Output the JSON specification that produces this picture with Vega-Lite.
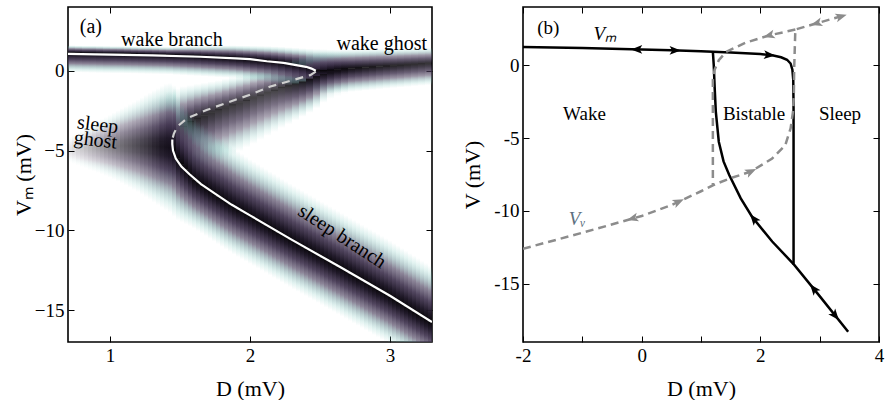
{
"$schema": "https://vega.github.io/schema/vega-lite/v6.json",
"padding": {"left": 11, "top": 5, "right": 0, "bottom": 0},
"spacing": 26,
"config": {
 "font": "Liberation Serif",
 "view": {"stroke": "black", "strokeWidth": 1.6},
 "axis": {"grid": false, "domain": false, "tickColor": "black", "tickWidth": 1, "tickSize": -6, "labelPadding": 10, "labelFont": "Liberation Serif", "labelFontSize": 19, "labelColor": "black", "titleFont": "Liberation Serif", "titleFontSize": 22, "titleFontWeight": "normal", "titleColor": "black", "labelFlush": false, "labelOverlap": false}
},
"datasets": {
 "h7": [
  {"D":0.725,"t":1.6,"c":1.14,"b":-0.1,"p":1},
  {"D":0.775,"t":1.59,"c":1.13,"b":-0.11,"p":1},
  {"D":0.825,"t":1.58,"c":1.12,"b":-0.12,"p":1},
  {"D":0.875,"t":1.58,"c":1.12,"b":-0.13,"p":1},
  {"D":0.925,"t":1.57,"c":1.11,"b":-0.14,"p":1},
  {"D":0.975,"t":1.56,"c":1.1,"b":-0.15,"p":1},
  {"D":1.025,"t":1.55,"c":1.1,"b":-0.16,"p":1},
  {"D":1.075,"t":1.55,"c":1.09,"b":-0.16,"p":1},
  {"D":1.125,"t":1.54,"c":1.08,"b":-0.17,"p":1},
  {"D":1.175,"t":1.53,"c":1.07,"b":-0.18,"p":1},
  {"D":1.225,"t":1.52,"c":1.06,"b":-0.19,"p":1},
  {"D":1.275,"t":1.52,"c":1.05,"b":-0.2,"p":1},
  {"D":1.325,"t":1.51,"c":1.04,"b":-0.21,"p":1},
  {"D":1.375,"t":1.5,"c":1.03,"b":-0.22,"p":1},
  {"D":1.425,"t":1.5,"c":1.01,"b":-0.23,"p":1},
  {"D":1.475,"t":1.52,"c":1.0,"b":-0.26,"p":1},
  {"D":1.525,"t":1.53,"c":0.98,"b":-0.28,"p":1},
  {"D":1.575,"t":1.54,"c":0.97,"b":-0.31,"p":1},
  {"D":1.625,"t":1.55,"c":0.95,"b":-0.33,"p":1},
  {"D":1.675,"t":1.56,"c":0.92,"b":-0.36,"p":1},
  {"D":1.725,"t":1.57,"c":0.9,"b":-0.38,"p":1},
  {"D":1.775,"t":1.58,"c":0.87,"b":-0.41,"p":1},
  {"D":1.825,"t":1.59,"c":0.85,"b":-0.43,"p":1},
  {"D":1.875,"t":1.6,"c":0.82,"b":-0.46,"p":1},
  {"D":1.925,"t":1.59,"c":0.79,"b":-0.5,"p":1},
  {"D":1.975,"t":1.58,"c":0.76,"b":-0.57,"p":1},
  {"D":2.025,"t":1.57,"c":0.72,"b":-0.63,"p":1},
  {"D":2.075,"t":1.56,"c":0.68,"b":-0.68,"p":1},
  {"D":2.125,"t":1.55,"c":0.64,"b":-0.73,"p":1},
  {"D":2.175,"t":1.53,"c":0.59,"b":-0.78,"p":1},
  {"D":2.225,"t":1.51,"c":0.53,"b":-0.83,"p":1},
  {"D":2.275,"t":1.48,"c":0.46,"b":-0.89,"p":1},
  {"D":2.325,"t":1.45,"c":0.39,"b":-0.96,"p":1},
  {"D":2.375,"t":1.42,"c":0.32,"b":-1.02,"p":1},
  {"D":2.425,"t":1.39,"c":0.21,"b":-1.15,"p":1},
  {"D":2.475,"t":1.37,"c":0.09,"b":-1.35,"p":1},
  {"D":2.525,"t":1.36,"c":0.05,"b":-1.44,"p":1},
  {"D":2.575,"t":1.34,"c":0.07,"b":-1.43,"p":1},
  {"D":2.625,"t":1.33,"c":0.1,"b":-1.4,"p":0.99},
  {"D":2.675,"t":1.34,"c":0.13,"b":-1.36,"p":0.98},
  {"D":2.725,"t":1.35,"c":0.16,"b":-1.32,"p":0.96},
  {"D":2.775,"t":1.36,"c":0.19,"b":-1.28,"p":0.95},
  {"D":2.825,"t":1.37,"c":0.22,"b":-1.24,"p":0.93},
  {"D":2.875,"t":1.38,"c":0.25,"b":-1.2,"p":0.92},
  {"D":2.925,"t":1.39,"c":0.28,"b":-1.16,"p":0.9},
  {"D":2.975,"t":1.39,"c":0.31,"b":-1.12,"p":0.89},
  {"D":3.025,"t":1.4,"c":0.33,"b":-1.08,"p":0.88},
  {"D":3.075,"t":1.41,"c":0.36,"b":-1.05,"p":0.87},
  {"D":3.125,"t":1.42,"c":0.39,"b":-1.01,"p":0.86},
  {"D":3.175,"t":1.43,"c":0.42,"b":-0.97,"p":0.85},
  {"D":3.225,"t":1.44,"c":0.45,"b":-0.94,"p":0.84},
  {"D":3.275,"t":1.45,"c":0.48,"b":-0.9,"p":0.83},
  {"D":1.325,"t":-1.7,"c":-4.5,"b":-7.4,"p":0.15},
  {"D":1.375,"t":-1.5,"c":-4.4,"b":-7.3,"p":0.45},
  {"D":1.425,"t":-1.3,"c":-4.2,"b":-7.2,"p":0.7},
  {"D":1.475,"t":-1.1,"c":-3.85,"b":-6.9,"p":0.8},
  {"D":1.525,"t":-0.96,"c":-3.46,"b":-6.7,"p":0.85},
  {"D":1.575,"t":-0.89,"c":-3.19,"b":-6.5,"p":0.87},
  {"D":1.625,"t":-0.81,"c":-2.96,"b":-6.3,"p":0.86},
  {"D":1.675,"t":-0.74,"c":-2.79,"b":-6.1,"p":0.85},
  {"D":1.725,"t":-0.66,"c":-2.61,"b":-5.9,"p":0.83},
  {"D":1.775,"t":-0.59,"c":-2.44,"b":-5.7,"p":0.81},
  {"D":1.825,"t":-0.49,"c":-2.28,"b":-5.49,"p":0.8},
  {"D":1.875,"t":-0.38,"c":-2.13,"b":-5.26,"p":0.79},
  {"D":1.925,"t":-0.27,"c":-1.98,"b":-5.04,"p":0.79},
  {"D":1.975,"t":-0.16,"c":-1.83,"b":-4.81,"p":0.78},
  {"D":2.025,"t":-0.03,"c":-1.67,"b":-4.58,"p":0.76},
  {"D":2.075,"t":0.11,"c":-1.51,"b":-4.33,"p":0.75},
  {"D":2.125,"t":0.24,"c":-1.36,"b":-4.08,"p":0.75},
  {"D":2.175,"t":0.38,"c":-1.2,"b":-3.83,"p":0.76},
  {"D":2.225,"t":0.52,"c":-1.06,"b":-3.58,"p":0.78},
  {"D":2.275,"t":0.65,"c":-0.94,"b":-3.35,"p":0.82},
  {"D":2.325,"t":0.78,"c":-0.81,"b":-3.12,"p":0.86},
  {"D":2.375,"t":0.92,"c":-0.66,"b":-2.88,"p":0.9},
  {"D":2.425,"t":1.08,"c":-0.49,"b":-2.63,"p":0.93},
  {"D":2.475,"t":1.15,"c":-0.33,"b":-2.35,"p":0.85},
  {"D":2.525,"t":1.18,"c":-0.2,"b":-2.0,"p":0.68},
  {"D":2.575,"t":1.2,"c":-0.1,"b":-1.75,"p":0.5},
  {"D":2.625,"t":1.22,"c":-0.02,"b":-1.6,"p":0.32},
  {"D":2.675,"t":1.25,"c":0.05,"b":-1.5,"p":0.15}
 ],
 "hg": [
  {"D":0.71429,"t":-4.13,"b":-5.75,"p":0.12},
  {"D":0.74286,"t":-3.98,"b":-5.84,"p":0.15},
  {"D":0.77143,"t":-3.83,"b":-5.94,"p":0.19},
  {"D":0.8,"t":-3.68,"b":-6.03,"p":0.22},
  {"D":0.82857,"t":-3.54,"b":-6.12,"p":0.26},
  {"D":0.85714,"t":-3.41,"b":-6.22,"p":0.3},
  {"D":0.88571,"t":-3.27,"b":-6.31,"p":0.34},
  {"D":0.91429,"t":-3.14,"b":-6.4,"p":0.38},
  {"D":0.94286,"t":-3.0,"b":-6.5,"p":0.42},
  {"D":0.97143,"t":-2.88,"b":-6.6,"p":0.46},
  {"D":1.0,"t":-2.75,"b":-6.7,"p":0.5},
  {"D":1.02857,"t":-2.61,"b":-6.81,"p":0.54},
  {"D":1.05714,"t":-2.48,"b":-6.95,"p":0.57},
  {"D":1.08571,"t":-2.34,"b":-7.06,"p":0.61},
  {"D":1.11429,"t":-2.21,"b":-7.2,"p":0.65},
  {"D":1.14286,"t":-2.07,"b":-7.33,"p":0.68},
  {"D":1.17143,"t":-1.94,"b":-7.47,"p":0.72},
  {"D":1.2,"t":-1.8,"b":-7.6,"p":0.75},
  {"D":1.22857,"t":-1.66,"b":-7.77,"p":0.79},
  {"D":1.25714,"t":-1.5,"b":-7.93,"p":0.82},
  {"D":1.28571,"t":-1.35,"b":-8.09,"p":0.86},
  {"D":1.31429,"t":-1.21,"b":-8.26,"p":0.89},
  {"D":1.34286,"t":-1.08,"b":-8.43,"p":0.92},
  {"D":1.37143,"t":-0.94,"b":-8.59,"p":0.94},
  {"D":1.4,"t":-0.81,"b":-8.76,"p":0.97},
  {"D":1.42857,"t":-0.75,"b":-8.9,"p":0.99}
 ],
 "h4": [
  {"D":1.45714,"t":-0.9,"c":-4.95,"b":-9.15},
  {"D":1.48571,"t":-1.6,"c":-5.49,"b":-9.37},
  {"D":1.51429,"t":-2.04,"c":-5.85,"b":-9.5},
  {"D":1.54286,"t":-2.35,"c":-6.18,"b":-9.63},
  {"D":1.57143,"t":-2.66,"c":-6.5,"b":-9.75},
  {"D":1.6,"t":-2.95,"c":-6.8,"b":-9.89},
  {"D":1.62857,"t":-3.15,"c":-6.98,"b":-10.05},
  {"D":1.65714,"t":-3.35,"c":-7.17,"b":-10.2},
  {"D":1.68571,"t":-3.55,"c":-7.35,"b":-10.36},
  {"D":1.71429,"t":-3.73,"c":-7.53,"b":-10.53},
  {"D":1.74286,"t":-3.9,"c":-7.7,"b":-10.7},
  {"D":1.77143,"t":-4.07,"c":-7.87,"b":-10.87},
  {"D":1.8,"t":-4.25,"c":-8.04,"b":-11.04},
  {"D":1.82857,"t":-4.45,"c":-8.2,"b":-11.2},
  {"D":1.85714,"t":-4.65,"c":-8.36,"b":-11.36},
  {"D":1.88571,"t":-4.85,"c":-8.52,"b":-11.52},
  {"D":1.91429,"t":-5.03,"c":-8.67,"b":-11.67},
  {"D":1.94286,"t":-5.2,"c":-8.81,"b":-11.81},
  {"D":1.97143,"t":-5.37,"c":-8.95,"b":-11.95},
  {"D":2.0,"t":-5.54,"c":-9.1,"b":-12.1},
  {"D":2.02857,"t":-5.69,"c":-9.24,"b":-12.24},
  {"D":2.05714,"t":-5.84,"c":-9.39,"b":-12.39},
  {"D":2.08571,"t":-6.0,"c":-9.54,"b":-12.54},
  {"D":2.11429,"t":-6.15,"c":-9.68,"b":-12.68},
  {"D":2.14286,"t":-6.3,"c":-9.83,"b":-12.83},
  {"D":2.17143,"t":-6.45,"c":-9.98,"b":-12.98},
  {"D":2.2,"t":-6.6,"c":-10.12,"b":-13.12},
  {"D":2.22857,"t":-6.76,"c":-10.27,"b":-13.27},
  {"D":2.25714,"t":-6.91,"c":-10.42,"b":-13.42},
  {"D":2.28571,"t":-7.06,"c":-10.56,"b":-13.56},
  {"D":2.31429,"t":-7.21,"c":-10.71,"b":-13.71},
  {"D":2.34286,"t":-7.35,"c":-10.85,"b":-13.85},
  {"D":2.37143,"t":-7.49,"c":-10.99,"b":-13.99},
  {"D":2.4,"t":-7.64,"c":-11.13,"b":-14.13},
  {"D":2.42857,"t":-7.78,"c":-11.27,"b":-14.27},
  {"D":2.45714,"t":-7.92,"c":-11.41,"b":-14.41},
  {"D":2.48571,"t":-8.06,"c":-11.55,"b":-14.55},
  {"D":2.51429,"t":-8.21,"c":-11.69,"b":-14.69},
  {"D":2.54286,"t":-8.35,"c":-11.84,"b":-14.84},
  {"D":2.57143,"t":-8.49,"c":-11.98,"b":-14.98},
  {"D":2.6,"t":-8.64,"c":-12.12,"b":-15.12},
  {"D":2.62857,"t":-8.78,"c":-12.26,"b":-15.26},
  {"D":2.65714,"t":-8.92,"c":-12.4,"b":-15.4},
  {"D":2.68571,"t":-9.06,"c":-12.55,"b":-15.55},
  {"D":2.71429,"t":-9.21,"c":-12.69,"b":-15.69},
  {"D":2.74286,"t":-9.35,"c":-12.84,"b":-15.84},
  {"D":2.77143,"t":-9.49,"c":-12.98,"b":-15.98},
  {"D":2.8,"t":-9.64,"c":-13.12,"b":-16.12},
  {"D":2.82857,"t":-9.78,"c":-13.27,"b":-16.27},
  {"D":2.85714,"t":-9.92,"c":-13.41,"b":-16.41},
  {"D":2.88571,"t":-10.06,"c":-13.56,"b":-16.56},
  {"D":2.91429,"t":-10.21,"c":-13.7,"b":-16.7},
  {"D":2.94286,"t":-10.35,"c":-13.85,"b":-16.85},
  {"D":2.97143,"t":-10.49,"c":-13.99,"b":-16.99},
  {"D":3.0,"t":-10.64,"c":-14.14,"b":-17.14},
  {"D":3.02857,"t":-10.8,"c":-14.3,"b":-17.3},
  {"D":3.05714,"t":-10.95,"c":-14.45,"b":-17.45},
  {"D":3.08571,"t":-11.11,"c":-14.61,"b":-17.61},
  {"D":3.11429,"t":-11.27,"c":-14.77,"b":-17.77},
  {"D":3.14286,"t":-11.43,"c":-14.93,"b":-17.93},
  {"D":3.17143,"t":-11.58,"c":-15.08,"b":-18.08},
  {"D":3.2,"t":-11.74,"c":-15.24,"b":-18.24},
  {"D":3.22857,"t":-11.9,"c":-15.4,"b":-18.4},
  {"D":3.25714,"t":-12.05,"c":-15.55,"b":-18.55},
  {"D":3.28571,"t":-12.21,"c":-15.71,"b":-18.71}
 ],
 "ca": [
  {"s":"wk","o":0,"D":0.7,"V":1.06},{"s":"wk","o":1,"D":1.0,"V":1.02},{"s":"wk","o":2,"D":1.3,"V":0.97},{"s":"wk","o":3,"D":1.645,"V":0.88},{"s":"wk","o":4,"D":1.9,"V":0.78},{"s":"wk","o":5,"D":2.0,"V":0.73},{"s":"wk","o":6,"D":2.12,"V":0.6},{"s":"wk","o":7,"D":2.24,"V":0.5},{"s":"wk","o":8,"D":2.35,"V":0.33},{"s":"wk","o":9,"D":2.4,"V":0.25},{"s":"wk","o":10,"D":2.44,"V":0.14},{"s":"wk","o":11,"D":2.47,"V":0.0},
  {"s":"mid","o":0,"D":2.47,"V":-0.05},{"s":"mid","o":1,"D":2.43,"V":-0.27},{"s":"mid","o":2,"D":2.3,"V":-0.6},{"s":"mid","o":3,"D":2.14,"V":-1.0},{"s":"mid","o":4,"D":2.0,"V":-1.5},{"s":"mid","o":5,"D":1.835,"V":-2.0},{"s":"mid","o":6,"D":1.69,"V":-2.46},{"s":"mid","o":7,"D":1.55,"V":-2.98},{"s":"mid","o":8,"D":1.48,"V":-3.5},{"s":"mid","o":9,"D":1.456,"V":-3.95},{"s":"mid","o":10,"D":1.445,"V":-4.3},
  {"s":"sl","o":0,"D":1.445,"V":-4.3},{"s":"sl","o":1,"D":1.445,"V":-4.6},{"s":"sl","o":2,"D":1.45,"V":-5.0},{"s":"sl","o":3,"D":1.47,"V":-5.5},{"s":"sl","o":4,"D":1.51,"V":-6.0},{"s":"sl","o":5,"D":1.57,"V":-6.5},{"s":"sl","o":6,"D":1.65,"V":-7.1},{"s":"sl","o":7,"D":1.75,"V":-7.7},{"s":"sl","o":8,"D":1.87,"V":-8.4},{"s":"sl","o":9,"D":2.0,"V":-9.06},{"s":"sl","o":10,"D":2.3,"V":-10.6},{"s":"sl","o":11,"D":2.65,"V":-12.33},{"s":"sl","o":12,"D":3.0,"V":-14.1},{"s":"sl","o":13,"D":3.3,"V":-15.75}
 ],
 "cb": [
  {"s":"m1","o":0,"D":-2.0,"V":1.25},{"s":"m1","o":1,"D":-1.0,"V":1.18},{"s":"m1","o":2,"D":0.0,"V":1.08},{"s":"m1","o":3,"D":0.5,"V":1.03},{"s":"m1","o":4,"D":1.0,"V":0.96},{"s":"m1","o":5,"D":1.5,"V":0.88},{"s":"m1","o":6,"D":2.0,"V":0.77},{"s":"m1","o":7,"D":2.2,"V":0.68},{"s":"m1","o":8,"D":2.35,"V":0.55},{"s":"m1","o":9,"D":2.45,"V":0.38},{"s":"m1","o":10,"D":2.51,"V":0.12},{"s":"m1","o":11,"D":2.54,"V":-0.3},{"s":"m1","o":12,"D":2.555,"V":-1.0},{"s":"m1","o":13,"D":2.56,"V":-3.0},{"s":"m1","o":14,"D":2.56,"V":-13.65},{"s":"m1","o":15,"D":3.0,"V":-15.85},{"s":"m1","o":16,"D":3.48,"V":-18.3},
  {"s":"m2","o":0,"D":1.2,"V":0.92},{"s":"m2","o":1,"D":1.215,"V":0.0},{"s":"m2","o":2,"D":1.23,"V":-1.5},{"s":"m2","o":3,"D":1.25,"V":-3.2},{"s":"m2","o":4,"D":1.3,"V":-5.25},{"s":"m2","o":5,"D":1.38,"V":-6.6},{"s":"m2","o":6,"D":1.476,"V":-7.53},{"s":"m2","o":7,"D":1.67,"V":-9.14},{"s":"m2","o":8,"D":1.86,"V":-10.4},{"s":"m2","o":9,"D":2.2,"V":-12.1},{"s":"m2","o":10,"D":2.56,"V":-13.65},
  {"s":"v1","o":0,"D":-2.0,"V":-12.6},{"s":"v1","o":1,"D":-1.0,"V":-11.5},{"s":"v1","o":2,"D":0.0,"V":-10.35},{"s":"v1","o":3,"D":0.5,"V":-9.6},{"s":"v1","o":4,"D":1.0,"V":-8.65},{"s":"v1","o":5,"D":1.25,"V":-8.15},{"s":"v1","o":6,"D":1.5,"V":-7.75},{"s":"v1","o":7,"D":1.84,"V":-7.3},{"s":"v1","o":8,"D":2.2,"V":-6.4},{"s":"v1","o":9,"D":2.42,"V":-5.5},{"s":"v1","o":10,"D":2.51,"V":-4.34},{"s":"v1","o":11,"D":2.55,"V":-3.2},{"s":"v1","o":12,"D":2.565,"V":-2.0},{"s":"v1","o":13,"D":2.57,"V":-0.3},{"s":"v1","o":14,"D":2.59,"V":2.45},{"s":"v1","o":15,"D":2.92,"V":2.85},{"s":"v1","o":16,"D":3.32,"V":3.31},{"s":"v1","o":17,"D":3.44,"V":3.42},
  {"s":"v2","o":0,"D":2.59,"V":2.45},{"s":"v2","o":1,"D":2.15,"V":2.05},{"s":"v2","o":2,"D":1.75,"V":1.55},{"s":"v2","o":3,"D":1.42,"V":0.91},{"s":"v2","o":4,"D":1.3,"V":0.35},{"s":"v2","o":5,"D":1.23,"V":-0.3},{"s":"v2","o":6,"D":1.2,"V":-1.0},{"s":"v2","o":7,"D":1.2,"V":-8.2}
 ],
 "arr": [
  {"c":"m","D":-0.08,"V":1.09,"a":270},{"c":"m","D":0.56,"V":1.02,"a":90},{"c":"m","D":2.15,"V":0.7,"a":95},{"c":"m","D":1.89,"V":-10.55,"a":321},{"c":"m","D":2.9,"V":-15.35,"a":321},{"c":"m","D":3.26,"V":-17.18,"a":141},
  {"c":"v","D":-0.15,"V":-10.52,"a":254},{"c":"v","D":0.62,"V":-9.37,"a":65},{"c":"v","D":1.84,"V":-7.3,"a":65},{"c":"v","D":2.15,"V":2.05,"a":255},{"c":"v","D":2.95,"V":2.88,"a":254},{"c":"v","D":3.36,"V":3.35,"a":74}
 ]
},
"hconcat": [
 {
  "width": 364, "height": 335,
  "resolve": {"axis": {"x": "independent", "y": "independent"}},
  "layer": [
   {
    "data": {"name": "h7"},
    "mark": {"type": "rect", "width": 7, "clip": true, "y2Offset": 0.3,
     "fill": {"gradient": "linear", "x1": 0, "y1": 0, "x2": 0, "y2": 1, "stops": [
      {"offset": 0, "color": "rgba(115,195,185,0)"},
      {"offset": 0.13, "color": "rgba(115,195,185,0.2)"},
      {"offset": 0.28, "color": "rgba(106,148,153,0.45)"},
      {"offset": 0.45, "color": "rgba(91,81,108,0.7)"},
      {"offset": 0.65, "color": "rgba(62,49,77,0.9)"},
      {"offset": 0.85, "color": "rgba(29,22,38,0.98)"},
      {"offset": 1, "color": "rgba(8,6,9,1)"}]}},
    "encoding": {
     "x": {"field": "D", "type": "quantitative", "scale": {"domain": [0.7, 3.3], "nice": false, "zero": false},
      "axis": {"values": [1, 2, 3], "title": "D (mV)", "titleY": 46, "titleBaseline": "middle"}},
     "y": {"field": "t", "type": "quantitative", "scale": {"domain": [-17, 4], "nice": false, "zero": false},
      "axis": {"values": [-15, -10, -5, 0], "title": "Vₘ (mV)", "titleX": -45, "titleBaseline": "middle"}},
     "y2": {"field": "c"},
     "opacity": {"field": "p", "type": "quantitative", "scale": {"domain": [0, 1], "range": [0, 1]}, "legend": null}
    }
   },
   {
    "data": {"name": "h7"},
    "mark": {"type": "rect", "width": 7, "clip": true,
     "fill": {"gradient": "linear", "x1": 0, "y1": 0, "x2": 0, "y2": 1, "stops": [
      {"offset": 0, "color": "rgba(8,6,9,1)"},
      {"offset": 0.15, "color": "rgba(29,22,38,0.98)"},
      {"offset": 0.35, "color": "rgba(62,49,77,0.9)"},
      {"offset": 0.55, "color": "rgba(91,81,108,0.7)"},
      {"offset": 0.72, "color": "rgba(106,148,153,0.45)"},
      {"offset": 0.87, "color": "rgba(115,195,185,0.2)"},
      {"offset": 1, "color": "rgba(115,195,185,0)"}]}},
    "encoding": {
     "x": {"field": "D", "type": "quantitative", "scale": {"domain": [0.7, 3.3], "nice": false, "zero": false}, "axis": null},
     "y": {"field": "c", "type": "quantitative", "scale": {"domain": [-17, 4], "nice": false, "zero": false}, "axis": null},
     "y2": {"field": "b"},
     "opacity": {"field": "p", "type": "quantitative", "scale": {"domain": [0, 1], "range": [0, 1]}, "legend": null}
    }
   },
   {
    "data": {"name": "hg"},
    "mark": {"type": "rect", "width": 4, "clip": true,
     "fill": {"gradient": "linear", "x1": 0, "y1": 0, "x2": 0, "y2": 1, "stops": [
      {"offset": 0, "color": "rgba(115,195,185,0)"},
      {"offset": 0.065, "color": "rgba(115,195,185,0.2)"},
      {"offset": 0.14, "color": "rgba(106,148,153,0.45)"},
      {"offset": 0.225, "color": "rgba(91,81,108,0.7)"},
      {"offset": 0.325, "color": "rgba(62,49,77,0.9)"},
      {"offset": 0.43, "color": "rgba(29,22,38,0.98)"},
      {"offset": 0.5, "color": "rgba(20,15,26,1)"},
      {"offset": 0.57, "color": "rgba(29,22,38,0.98)"},
      {"offset": 0.675, "color": "rgba(62,49,77,0.9)"},
      {"offset": 0.775, "color": "rgba(91,81,108,0.7)"},
      {"offset": 0.86, "color": "rgba(106,148,153,0.45)"},
      {"offset": 0.935, "color": "rgba(115,195,185,0.2)"},
      {"offset": 1, "color": "rgba(115,195,185,0)"}]}},
    "encoding": {
     "x": {"field": "D", "type": "quantitative", "scale": {"domain": [0.7, 3.3], "nice": false, "zero": false}, "axis": null},
     "y": {"field": "t", "type": "quantitative", "scale": {"domain": [-17, 4], "nice": false, "zero": false}, "axis": null},
     "y2": {"field": "b"},
     "opacity": {"field": "p", "type": "quantitative", "scale": {"domain": [0, 1], "range": [0, 1]}, "legend": null}
    }
   },
   {
    "data": {"name": "h4"},
    "mark": {"type": "rect", "width": 4, "clip": true, "y2Offset": 0.3,
     "fill": {"gradient": "linear", "x1": 0, "y1": 0, "x2": 0, "y2": 1, "stops": [
      {"offset": 0, "color": "rgba(115,195,185,0)"},
      {"offset": 0.13, "color": "rgba(115,195,185,0.2)"},
      {"offset": 0.28, "color": "rgba(106,148,153,0.45)"},
      {"offset": 0.45, "color": "rgba(91,81,108,0.7)"},
      {"offset": 0.65, "color": "rgba(62,49,77,0.9)"},
      {"offset": 0.85, "color": "rgba(29,22,38,0.98)"},
      {"offset": 1, "color": "rgba(8,6,9,1)"}]}},
    "encoding": {
     "x": {"field": "D", "type": "quantitative", "scale": {"domain": [0.7, 3.3], "nice": false, "zero": false}, "axis": null},
     "y": {"field": "t", "type": "quantitative", "scale": {"domain": [-17, 4], "nice": false, "zero": false}, "axis": null},
     "y2": {"field": "c"}
    }
   },
   {
    "data": {"name": "h4"},
    "mark": {"type": "rect", "width": 4, "clip": true,
     "fill": {"gradient": "linear", "x1": 0, "y1": 0, "x2": 0, "y2": 1, "stops": [
      {"offset": 0, "color": "rgba(8,6,9,1)"},
      {"offset": 0.15, "color": "rgba(29,22,38,0.98)"},
      {"offset": 0.35, "color": "rgba(62,49,77,0.9)"},
      {"offset": 0.55, "color": "rgba(91,81,108,0.7)"},
      {"offset": 0.72, "color": "rgba(106,148,153,0.45)"},
      {"offset": 0.87, "color": "rgba(115,195,185,0.2)"},
      {"offset": 1, "color": "rgba(115,195,185,0)"}]}},
    "encoding": {
     "x": {"field": "D", "type": "quantitative", "scale": {"domain": [0.7, 3.3], "nice": false, "zero": false}, "axis": null},
     "y": {"field": "c", "type": "quantitative", "scale": {"domain": [-17, 4], "nice": false, "zero": false}, "axis": null},
     "y2": {"field": "b"}
    }
   },
   {
    "data": {"name": "ca"},
    "transform": [{"filter": "datum.s != 'mid'"}],
    "mark": {"type": "line", "color": "white", "strokeWidth": 2.2, "clip": true},
    "encoding": {
     "x": {"field": "D", "type": "quantitative", "scale": {"domain": [0.7, 3.3], "nice": false, "zero": false},
      "axis": {"orient": "top", "values": [1, 2, 3], "labels": false, "title": null}},
     "y": {"field": "V", "type": "quantitative", "scale": {"domain": [-17, 4], "nice": false, "zero": false},
      "axis": {"orient": "right", "values": [-15, -10, -5, 0], "labels": false, "title": null}},
     "detail": {"field": "s"},
     "order": {"field": "o"}
    }
   },
   {
    "data": {"name": "ca"},
    "transform": [{"filter": "datum.s == 'mid'"}],
    "mark": {"type": "line", "color": "#cfcfcf", "strokeWidth": 2.2, "strokeDash": [8, 6], "clip": true},
    "encoding": {
     "x": {"field": "D", "type": "quantitative", "scale": {"domain": [0.7, 3.3], "nice": false, "zero": false}, "axis": null},
     "y": {"field": "V", "type": "quantitative", "scale": {"domain": [-17, 4], "nice": false, "zero": false}, "axis": null},
     "order": {"field": "o"}
    }
   },
   {
    "data": {"values": [{"txt": "(a)", "D": 0.863, "V": 2.34}, {"txt": "wake branch", "D": 1.442, "V": 1.55}, {"txt": "wake ghost", "D": 2.941, "V": 1.3}]},
    "mark": {"type": "text", "font": "Liberation Serif", "fontSize": 20, "color": "black", "align": "center", "baseline": "alphabetic"},
    "encoding": {
     "x": {"field": "D", "type": "quantitative", "scale": {"domain": [0.7, 3.3], "nice": false, "zero": false}, "axis": null},
     "y": {"field": "V", "type": "quantitative", "scale": {"domain": [-17, 4], "nice": false, "zero": false}, "axis": null},
     "text": {"field": "txt"}
    }
   },
   {
    "data": {"values": [{"txt": "sleep", "D": 0.907, "V": -3.76}, {"txt": "ghost", "D": 0.891, "V": -4.72}]},
    "mark": {"type": "text", "font": "Liberation Serif", "fontSize": 20, "color": "black", "align": "center", "baseline": "alphabetic", "angle": 7},
    "encoding": {
     "x": {"field": "D", "type": "quantitative", "scale": {"domain": [0.7, 3.3], "nice": false, "zero": false}, "axis": null},
     "y": {"field": "V", "type": "quantitative", "scale": {"domain": [-17, 4], "nice": false, "zero": false}, "axis": null},
     "text": {"field": "txt"}
    }
   },
   {
    "data": {"values": [{"txt": "sleep branch", "D": 2.658, "V": -10.39}]},
    "mark": {"type": "text", "font": "Liberation Serif", "fontSize": 20, "color": "black", "align": "center", "baseline": "middle", "angle": 33},
    "encoding": {
     "x": {"field": "D", "type": "quantitative", "scale": {"domain": [0.7, 3.3], "nice": false, "zero": false}, "axis": null},
     "y": {"field": "V", "type": "quantitative", "scale": {"domain": [-17, 4], "nice": false, "zero": false}, "axis": null},
     "text": {"field": "txt"}
    }
   }
  ]
 },
 {
  "width": 356, "height": 335,
  "resolve": {"axis": {"x": "independent", "y": "independent"}},
  "layer": [
   {
    "data": {"name": "cb"},
    "transform": [{"filter": "datum.s == 'm1' || datum.s == 'm2'"}],
    "mark": {"type": "line", "color": "black", "strokeWidth": 2.5, "clip": true},
    "encoding": {
     "x": {"field": "D", "type": "quantitative", "scale": {"domain": [-2, 4], "nice": false, "zero": false},
      "axis": {"values": [-2, -1, 0, 1, 2, 3, 4], "labelExpr": "datum.value % 2 == 0 ? replace(datum.label, '−', '-') : ''", "title": "D (mV)", "titleY": 46, "titleBaseline": "middle"}},
     "y": {"field": "V", "type": "quantitative", "scale": {"domain": [-19, 4], "nice": false, "zero": false},
      "axis": {"values": [-15, -10, -5, 0], "labelExpr": "replace(datum.label, '−', '-')", "title": "V (mV)", "titleX": -51, "titleBaseline": "middle"}},
     "detail": {"field": "s"},
     "order": {"field": "o"}
    }
   },
   {
    "data": {"name": "cb"},
    "transform": [{"filter": "datum.s == 'v1' || datum.s == 'v2'"}],
    "mark": {"type": "line", "color": "#8c8c8c", "strokeWidth": 2.5, "strokeDash": [8, 5], "clip": true},
    "encoding": {
     "x": {"field": "D", "type": "quantitative", "scale": {"domain": [-2, 4], "nice": false, "zero": false},
      "axis": {"orient": "top", "values": [-2, -1, 0, 1, 2, 3, 4], "labels": false, "title": null}},
     "y": {"field": "V", "type": "quantitative", "scale": {"domain": [-19, 4], "nice": false, "zero": false},
      "axis": {"orient": "right", "values": [-15, -10, -5, 0], "labels": false, "title": null}},
     "detail": {"field": "s"},
     "order": {"field": "o"}
    }
   },
   {
    "data": {"name": "arr"},
    "transform": [{"filter": "datum.c == 'm'"}],
    "mark": {"type": "point", "shape": "M0,-1L0.75,0.9L0,0.45L-0.75,0.9Z", "filled": true, "color": "black", "size": 140, "opacity": 1},
    "encoding": {
     "x": {"field": "D", "type": "quantitative", "scale": {"domain": [-2, 4], "nice": false, "zero": false}, "axis": null},
     "y": {"field": "V", "type": "quantitative", "scale": {"domain": [-19, 4], "nice": false, "zero": false}, "axis": null},
     "angle": {"field": "a", "type": "quantitative", "scale": null}
    }
   },
   {
    "data": {"name": "arr"},
    "transform": [{"filter": "datum.c == 'v'"}],
    "mark": {"type": "point", "shape": "M0,-1L0.75,0.9L0,0.45L-0.75,0.9Z", "filled": true, "color": "#8c8c8c", "size": 140, "opacity": 1},
    "encoding": {
     "x": {"field": "D", "type": "quantitative", "scale": {"domain": [-2, 4], "nice": false, "zero": false}, "axis": null},
     "y": {"field": "V", "type": "quantitative", "scale": {"domain": [-19, 4], "nice": false, "zero": false}, "axis": null},
     "angle": {"field": "a", "type": "quantitative", "scale": null}
    }
   },
   {
    "data": {"values": [{"txt": "(b)", "D": -1.574, "V": 2.16}, {"txt": "Wake", "D": -0.964, "V": -3.75}, {"txt": "Bistable", "D": 1.894, "V": -3.75}, {"txt": "Sleep", "D": 3.343, "V": -3.77}]},
    "mark": {"type": "text", "font": "Liberation Serif", "fontSize": 19, "color": "black", "align": "center", "baseline": "alphabetic"},
    "encoding": {
     "x": {"field": "D", "type": "quantitative", "scale": {"domain": [-2, 4], "nice": false, "zero": false}, "axis": null},
     "y": {"field": "V", "type": "quantitative", "scale": {"domain": [-19, 4], "nice": false, "zero": false}, "axis": null},
     "text": {"field": "txt"}
    }
   },
   {
    "data": {"values": [{"txt": "Vₘ", "D": -0.613, "V": 1.71}]},
    "mark": {"type": "text", "font": "Liberation Serif", "fontSize": 19, "fontStyle": "italic", "color": "black", "align": "center", "baseline": "alphabetic"},
    "encoding": {
     "x": {"field": "D", "type": "quantitative", "scale": {"domain": [-2, 4], "nice": false, "zero": false}, "axis": null},
     "y": {"field": "V", "type": "quantitative", "scale": {"domain": [-19, 4], "nice": false, "zero": false}, "axis": null},
     "text": {"field": "txt"}
    }
   },
   {
    "data": {"values": [{"txt": "Vᵥ", "D": -1.086, "V": -10.96}]},
    "mark": {"type": "text", "font": "Liberation Serif", "fontSize": 19, "fontStyle": "italic", "color": "#5d7080", "align": "center", "baseline": "alphabetic"},
    "encoding": {
     "x": {"field": "D", "type": "quantitative", "scale": {"domain": [-2, 4], "nice": false, "zero": false}, "axis": null},
     "y": {"field": "V", "type": "quantitative", "scale": {"domain": [-19, 4], "nice": false, "zero": false}, "axis": null},
     "text": {"field": "txt"}
    }
   }
  ]
 }
]
}
